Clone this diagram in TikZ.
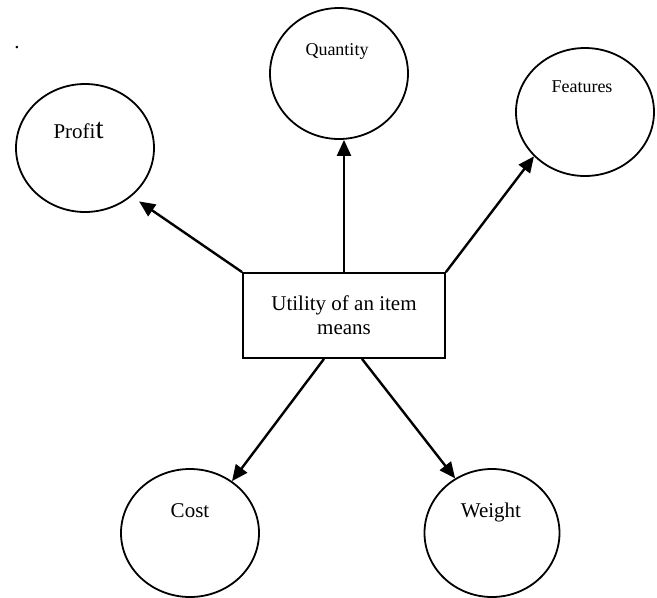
\documentclass[tikz,border=0pt]{standalone}
\usepackage{fontspec}
\setmainfont{Liberation Serif}
\usetikzlibrary{positioning,shapes.geometric,arrows.meta}

\begin{document}
\begin{tikzpicture}[x=1pt,y=-1pt,
	bubble/.style={draw,ellipse,line width=1.8pt,minimum width=138pt,minimum height=128pt,inner sep=0pt},
	bigtext/.style={font=\fontsize{21}{24}\selectfont},
	smalltext/.style={font=\fontsize{18}{21}\selectfont},
	link/.style={line width=2.4pt,-{Triangle[length=16pt,width=14pt]}}]
		\useasboundingbox (0,0) rectangle (657,598);
%		\draw[lightgray,step=50] (0,0) grid (657,598);
		\node[draw,line width=1.8pt,minimum width=202pt,minimum height=85pt,align=center,bigtext] (util) at (344,315.5) {Utility of an item\\means};
		\node[bubble] (profit) at (85,148) {};
		\node[bubble,minimum height=131pt] (quantity) at (339,73.5) {};
		\node[bubble] (features) at (585,112) {};
		\node[bubble] (cost) at (190,533) {};
		\node[bubble,minimum width=135pt] (weight) at (492,533) {};
		% labels sit high in the bubbles
		\node[bigtext,anchor=base west] (profitlbl) at (50,138) {Profi{\fontsize{29}{29}\selectfont t}};
		\node[smalltext,anchor=base] (quantitylbl) at (337,55) {Quantity};
		\node[smalltext,anchor=base] (featureslbl) at (582,92) {Features};
		\node[bigtext,anchor=base] (costlbl) at (190,517) {Cost};
		\node[bigtext,anchor=base] (weightlbl) at (491,517) {Weight};
		\node[bigtext,anchor=base] (dot) at (17,48) {.};
		% arrows out of the box
		\draw[link,shorten >=9pt] (util.north west) -- (profit.-46);
		\draw[link] (util.north) -- (util.north |- quantity.south);
		\draw[link] (util.north east) -- (features.221);
		\draw[link] ([xshift=-20pt]util.south) -- (cost.51);
		\draw[link] ([xshift=18pt]util.south) -- (weight.124);
	\end{tikzpicture}
\end{document}
